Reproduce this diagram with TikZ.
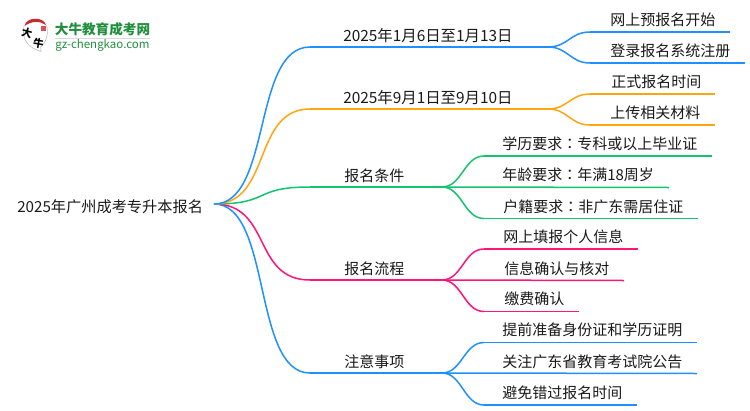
\documentclass[tikz,border=0pt]{standalone}
\usepackage{fontspec}
\setmainfont{Noto Sans CJK SC}
\newfontfamily\colonfont{Noto Sans CJK TC}
\newcommand{\midcolon}{{\colonfont ：}}
\definecolor{lineblue}{HTML}{1E90FF}
\definecolor{lineorange}{HTML}{FFA60F}
\definecolor{linegreen}{HTML}{12C46E}
\definecolor{linepink}{HTML}{FF1478}
\definecolor{logogreen}{HTML}{1F8F3C}
\definecolor{logored}{HTML}{C9282D}
\begin{document}
\begin{tikzpicture}[x=1pt,y=-1pt,line width=1.5pt,
    label node/.style={anchor=base west,inner sep=0pt,text=black!90,font=\fontsize{15}{15}\selectfont},
    date node/.style={label node,font=\fontsize{15.4}{15}\selectfont},
    main link/.style={out=0,in=180,distance=58pt},
    side link/.style={out=0,in=180,distance=20pt}]
    \useasboundingbox (0,0) rectangle (750,410);

    % logo
    \fill[logored] (24.5,26) .. controls (26,16.5) and (44,16.5) .. (46,25) .. controls (40,20.5) and (31,21) .. (24.5,26);
    \fill[logored!80] (40.5,25.5) rectangle (45.5,31);
    \draw[black!25,line width=0.6pt] (24,26) .. controls (21,40) and (29,48) .. (41,51.5) .. controls (41,49) and (41,48) .. (40.5,47) .. controls (46,43) and (49,34) .. (46.5,25);
    \node[font=\fontsize{10.5}{10}\selectfont\bfseries,rotate=-15,inner sep=0pt] at (27,33) (logoa) {大};
    \node[font=\fontsize{10.5}{10}\selectfont\bfseries,rotate=-10,inner sep=0pt] at (38.5,43) (logob) {牛};
    \node[font=\fontsize{13.6}{14}\selectfont\bfseries,text=logogreen,inner sep=0pt] at (102.5,29.5) (logotitle) {大牛教育成考网};
    \node[font=\fontsize{11.5}{12}\selectfont,text=logogreen,inner sep=0pt] at (102.5,45) (logourl) {gz-chengkao.com};
    \coordinate (logoleft) at (55,38.5);
    \coordinate (logoright) at (150,38.5);
    \draw[black!15,line width=0.8pt] (logoleft) -- (logoright);

    % labels
    \node[label node,font=\fontsize{15.2}{15}\selectfont] at (16.5,212) (root) {2025年广州成考专升本报名};

    \node[date node] at (342.5,41) (date one) {2025年1月6日至1月13日};
    \node[date node] at (342.5,103) (date two) {2025年9月1日至9月10日};
    \node[label node] at (343.5,181) (cond) {报名条件};
    \node[label node] at (343.5,274) (flow) {报名流程};
    \node[label node] at (343.5,367) (note) {注意事项};

    \node[label node] at (609.5,25.5) (date one a) {网上预报名开始};
    \node[label node] at (609.5,56.5) (date one b) {登录报名系统注册};
    \node[label node] at (610.5,87.5) (date two a) {正式报名时间};
    \node[label node] at (609.5,118.5) (date two b) {上传相关材料};

    \node[label node] at (501.5,149.5) (cond a) {学历要求\midcolon 专科或以上毕业证};
    \node[label node] at (501.5,180.5) (cond b) {年龄要求\midcolon 年满18周岁};
    \node[label node] at (502.5,212) (cond c) {户籍要求\midcolon 非广东需居住证};

    \node[label node] at (502.5,242.5) (flow a) {网上填报个人信息};
    \node[label node] at (503.5,274) (flow b) {信息确认与核对};
    \node[label node] at (503.5,304.5) (flow c) {缴费确认};

    \node[label node] at (501.5,335.5) (note a) {提前准备身份证和学历证明};
    \node[label node] at (501.5,367) (note b) {关注广东省教育考试院公告};
    \node[label node] at (501.5,398.5) (note c) {避免错过报名时间};

    % joints
    \coordinate (start) at (214,204);
    \coordinate (one in) at (310,47);
    \coordinate (one out) at (548,47);
    \coordinate (two in) at (310,109);
    \coordinate (two out) at (548,109);
    \coordinate (cond in) at (310,187);
    \coordinate (cond out) at (442,187);
    \coordinate (flow in) at (310,280);
    \coordinate (flow out) at (442,280);
    \coordinate (note in) at (310,373);
    \coordinate (note out) at (442,373);

    \coordinate (one a in) at (590,32);
    \coordinate (one a end) at (730,32);
    \coordinate (one b in) at (590,63);
    \coordinate (one b end) at (745,63);
    \coordinate (two a in) at (590,94);
    \coordinate (two a end) at (715,94);
    \coordinate (two b in) at (590,125);
    \coordinate (two b end) at (715,125);
    \coordinate (cond a in) at (484,156);
    \coordinate (cond a end) at (712,156);
    \coordinate (cond b end) at (669,187.5);
    \coordinate (cond c in) at (484,218.5);
    \coordinate (cond c end) at (698,218.5);
    \coordinate (flow a in) at (484,249);
    \coordinate (flow a end) at (638,249);
    \coordinate (flow b end) at (624,280.5);
    \coordinate (flow c in) at (484,311.5);
    \coordinate (flow c end) at (579,311.5);
    \coordinate (note a in) at (484,342.5);
    \coordinate (note a end) at (697,342.5);
    \coordinate (note b end) at (697,373.5);
    \coordinate (note c in) at (484,405);
    \coordinate (note c end) at (637,405);

    % note and flow go first, the upper branches lie on top at the start
    \path[draw=lineblue]
        (start) edge[main link] (note in)
        (note in) edge (note out)
        (note out) edge[side link] (note a in)
        (note a in) edge (note a end)
        (note out) edge (note b end)
        (note out) edge[side link] (note c in)
        (note c in) edge (note c end);
    \path[draw=linepink]
        (start) edge[main link] (flow in)
        (flow in) edge (flow out)
        (flow out) edge[side link] (flow a in)
        (flow a in) edge (flow a end)
        (flow out) edge (flow b end)
        (flow out) edge[side link] (flow c in)
        (flow c in) edge (flow c end);
    \path[draw=linegreen]
        (start) edge[main link] (cond in)
        (cond in) edge (cond out)
        (cond out) edge[side link] (cond a in)
        (cond a in) edge (cond a end)
        (cond out) edge (cond b end)
        (cond out) edge[side link] (cond c in)
        (cond c in) edge (cond c end);
    \path[draw=lineorange]
        (start) edge[main link] (two in)
        (two in) edge (two out)
        (two out) edge[side link] (two a in)
        (two a in) edge (two a end)
        (two out) edge[side link] (two b in)
        (two b in) edge (two b end);
    \path[draw=lineblue]
        (start) edge[main link] (one in)
        (one in) edge (one out)
        (one out) edge[side link] (one a in)
        (one a in) edge (one a end)
        (one out) edge[side link] (one b in)
        (one b in) edge (one b end);
\end{tikzpicture}
\end{document}
